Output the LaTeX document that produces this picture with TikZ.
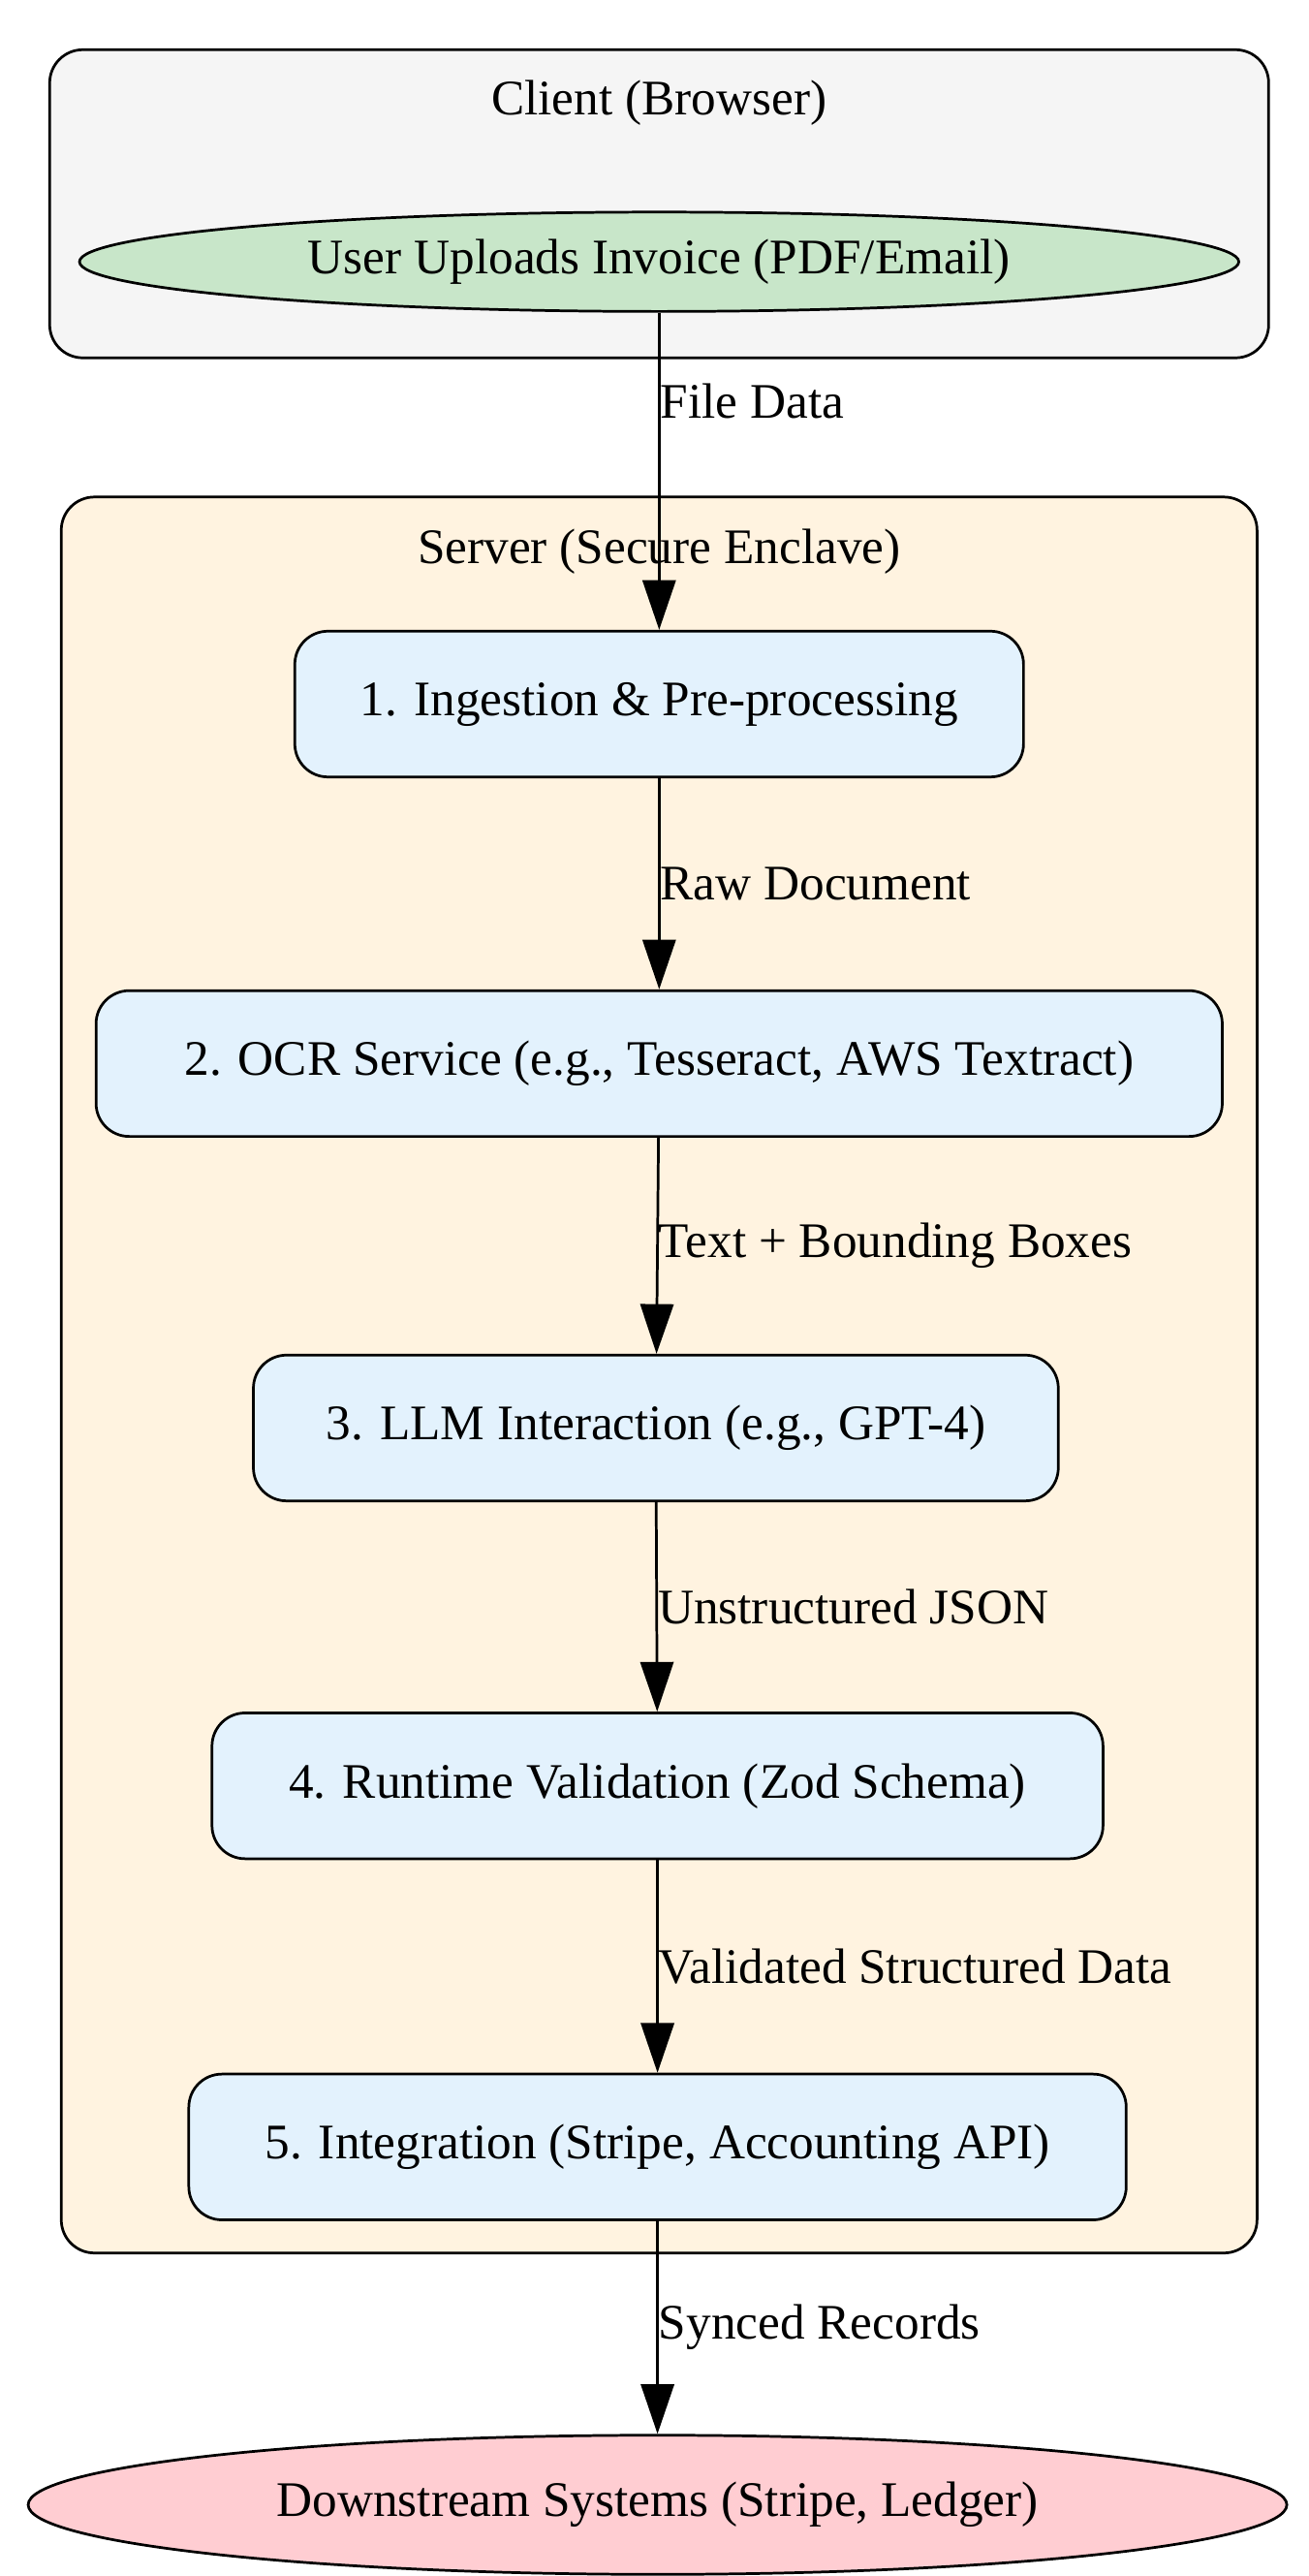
\documentclass[tikz,border=0pt]{standalone}
\usepackage{fontspec}
\setmainfont{Liberation Serif}
\usetikzlibrary{shapes.geometric,arrows.meta}
\definecolor{clientbg}{HTML}{F5F5F5}
\definecolor{serverbg}{HTML}{FFF3E0}
\definecolor{stepbg}{HTML}{E3F2FD}
\definecolor{userbg}{HTML}{C8E6C9}
\definecolor{downbg}{HTML}{FFCDD2}
\begin{document}
\begin{tikzpicture}[
                        x=0.5pt,y=-0.5pt,
                        >={Triangle[length=15pt,width=10pt]},
                        font=\fontsize{15}{18}\selectfont,
                        stage/.style={rectangle, rounded corners=10pt, draw, line width=0.8pt, fill=stepbg, minimum height=44pt, inner xsep=10pt},
                        term/.style={ellipse, draw, line width=0.8pt, inner sep=0pt, minimum height=30pt},
                        cluster/.style={draw, line width=0.8pt, rounded corners=10pt},
                        lbl/.style={right, inner sep=0pt}
                    ]
                    \useasboundingbox (0,0) rectangle (790,1555);
                    % Clusters
                    \draw [cluster, fill=clientbg] (30,30) rectangle (766,216);
                    \node (clientlbl) at (398,62) {Client (Browser)};
                    \draw [cluster, fill=serverbg] (37,300) rectangle (759,1360);
                    \node (serverlbl) at (398,333) {Server (Secure Enclave)};
                    % Blocks
                    \node [term, fill=userbg, minimum width=350pt] (upload) at (398,158) {User Uploads Invoice (PDF/Email)};
                    \node [stage, minimum width=220pt] (ingest) at (398,425) {1. Ingestion \& Pre-processing};
                    \node [stage, minimum width=340pt] (ocr) at (398,642) {2. OCR Service (e.g., Tesseract, AWS Textract)};
                    \node [stage, minimum width=243pt] (llm) at (396,862) {3. LLM Interaction (e.g., GPT-4)};
                    \node [stage, minimum width=269pt] (valid) at (397,1078) {4. Runtime Validation (Zod Schema)};
                    \node [stage, minimum width=283pt] (integ) at (397,1296) {5. Integration (Stripe, Accounting API)};
                    \node [term, fill=downbg, minimum width=380pt, minimum height=42pt] (down) at (397,1512) {Downstream Systems (Stripe, Ledger)};

                    % Connections
                    \draw [->, line width=0.8pt] (upload) -- node[lbl, pos=0.28]{File Data} (ingest);
                    \draw [->, line width=0.8pt] (ingest) -- node[lbl, pos=0.5]{Raw Document} (ocr);
                    \draw [->, line width=0.8pt] (ocr) -- node[lbl, pos=0.5]{Text + Bounding Boxes} (llm);
                    \draw [->, line width=0.8pt] (llm) -- node[lbl, pos=0.5]{Unstructured JSON} (valid);
                    \draw [->, line width=0.8pt] (valid) -- node[lbl, pos=0.5]{Validated Structured Data} (integ);
                    \draw [->, line width=0.8pt] (integ) -- node[lbl, pos=0.5]{Synced Records} (down);
                \end{tikzpicture}
\end{document}
